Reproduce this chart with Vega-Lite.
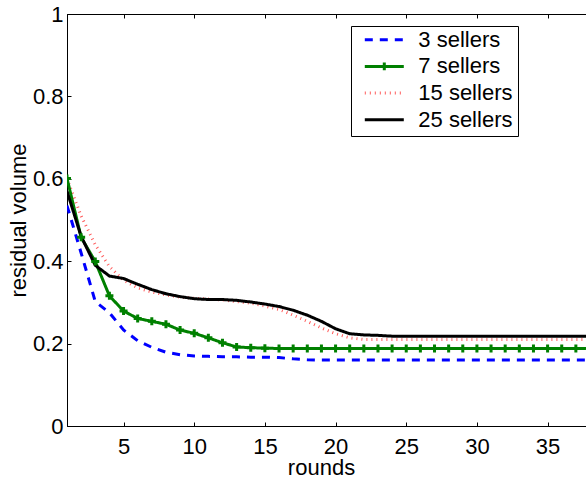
{
  "$schema": "https://vega.github.io/schema/vega-lite/v6.json",
  "width": 523,
  "height": 412,
  "autosize": "none",
  "padding": {"left": 67, "top": 14, "right": 0, "bottom": 52},
  "background": "white",
  "config": {
    "font": "Liberation Sans",
    "view": {"stroke": "black", "strokeWidth": 1},
    "axis": {
      "grid": false,
      "domainColor": "black",
      "domainWidth": 1,
      "tickColor": "black",
      "tickWidth": 1,
      "tickSize": -4,
      "labelFont": "Liberation Sans",
      "labelFontSize": 22,
      "labelColor": "black",
      "titleFont": "Liberation Sans",
      "titleFontSize": 22,
      "titleFontWeight": "normal",
      "titleColor": "black"
    }
  },
  "datasets": {
    "main": [
      {"round": 1, "series": "3 sellers", "v": 0.535}, {"round": 2, "series": "3 sellers", "v": 0.42}, {"round": 3, "series": "3 sellers", "v": 0.302}, {"round": 4, "series": "3 sellers", "v": 0.275}, {"round": 5, "series": "3 sellers", "v": 0.233}, {"round": 6, "series": "3 sellers", "v": 0.207}, {"round": 7, "series": "3 sellers", "v": 0.191}, {"round": 8, "series": "3 sellers", "v": 0.179}, {"round": 9, "series": "3 sellers", "v": 0.173}, {"round": 10, "series": "3 sellers", "v": 0.17}, {"round": 11, "series": "3 sellers", "v": 0.169}, {"round": 12, "series": "3 sellers", "v": 0.168}, {"round": 13, "series": "3 sellers", "v": 0.168}, {"round": 14, "series": "3 sellers", "v": 0.167}, {"round": 15, "series": "3 sellers", "v": 0.167}, {"round": 16, "series": "3 sellers", "v": 0.166}, {"round": 17, "series": "3 sellers", "v": 0.163}, {"round": 18, "series": "3 sellers", "v": 0.161}, {"round": 19, "series": "3 sellers", "v": 0.16}, {"round": 20, "series": "3 sellers", "v": 0.16}, {"round": 21, "series": "3 sellers", "v": 0.16}, {"round": 22, "series": "3 sellers", "v": 0.16}, {"round": 23, "series": "3 sellers", "v": 0.16}, {"round": 24, "series": "3 sellers", "v": 0.16}, {"round": 25, "series": "3 sellers", "v": 0.16}, {"round": 26, "series": "3 sellers", "v": 0.16}, {"round": 27, "series": "3 sellers", "v": 0.16}, {"round": 28, "series": "3 sellers", "v": 0.16}, {"round": 29, "series": "3 sellers", "v": 0.16}, {"round": 30, "series": "3 sellers", "v": 0.16}, {"round": 31, "series": "3 sellers", "v": 0.16}, {"round": 32, "series": "3 sellers", "v": 0.16}, {"round": 33, "series": "3 sellers", "v": 0.16}, {"round": 34, "series": "3 sellers", "v": 0.16}, {"round": 35, "series": "3 sellers", "v": 0.16}, {"round": 36, "series": "3 sellers", "v": 0.16}, {"round": 37, "series": "3 sellers", "v": 0.16}, {"round": 38, "series": "3 sellers", "v": 0.16},
      {"round": 1, "series": "15 sellers", "v": 0.6}, {"round": 2, "series": "15 sellers", "v": 0.51}, {"round": 3, "series": "15 sellers", "v": 0.44}, {"round": 4, "series": "15 sellers", "v": 0.387}, {"round": 5, "series": "15 sellers", "v": 0.354}, {"round": 6, "series": "15 sellers", "v": 0.335}, {"round": 7, "series": "15 sellers", "v": 0.325}, {"round": 8, "series": "15 sellers", "v": 0.318}, {"round": 9, "series": "15 sellers", "v": 0.313}, {"round": 10, "series": "15 sellers", "v": 0.31}, {"round": 11, "series": "15 sellers", "v": 0.308}, {"round": 12, "series": "15 sellers", "v": 0.306}, {"round": 13, "series": "15 sellers", "v": 0.302}, {"round": 14, "series": "15 sellers", "v": 0.298}, {"round": 15, "series": "15 sellers", "v": 0.291}, {"round": 16, "series": "15 sellers", "v": 0.283}, {"round": 17, "series": "15 sellers", "v": 0.269}, {"round": 18, "series": "15 sellers", "v": 0.254}, {"round": 19, "series": "15 sellers", "v": 0.238}, {"round": 20, "series": "15 sellers", "v": 0.224}, {"round": 21, "series": "15 sellers", "v": 0.214}, {"round": 22, "series": "15 sellers", "v": 0.21}, {"round": 23, "series": "15 sellers", "v": 0.21}, {"round": 24, "series": "15 sellers", "v": 0.21}, {"round": 25, "series": "15 sellers", "v": 0.21}, {"round": 26, "series": "15 sellers", "v": 0.21}, {"round": 27, "series": "15 sellers", "v": 0.21}, {"round": 28, "series": "15 sellers", "v": 0.21}, {"round": 29, "series": "15 sellers", "v": 0.21}, {"round": 30, "series": "15 sellers", "v": 0.21}, {"round": 31, "series": "15 sellers", "v": 0.21}, {"round": 32, "series": "15 sellers", "v": 0.21}, {"round": 33, "series": "15 sellers", "v": 0.21}, {"round": 34, "series": "15 sellers", "v": 0.21}, {"round": 35, "series": "15 sellers", "v": 0.21}, {"round": 36, "series": "15 sellers", "v": 0.21}, {"round": 37, "series": "15 sellers", "v": 0.21}, {"round": 38, "series": "15 sellers", "v": 0.21},
      {"round": 1, "series": "7 sellers", "v": 0.601}, {"round": 2, "series": "7 sellers", "v": 0.458}, {"round": 3, "series": "7 sellers", "v": 0.399}, {"round": 4, "series": "7 sellers", "v": 0.316}, {"round": 5, "series": "7 sellers", "v": 0.279}, {"round": 6, "series": "7 sellers", "v": 0.261}, {"round": 7, "series": "7 sellers", "v": 0.254}, {"round": 8, "series": "7 sellers", "v": 0.247}, {"round": 9, "series": "7 sellers", "v": 0.233}, {"round": 10, "series": "7 sellers", "v": 0.225}, {"round": 11, "series": "7 sellers", "v": 0.214}, {"round": 12, "series": "7 sellers", "v": 0.202}, {"round": 13, "series": "7 sellers", "v": 0.192}, {"round": 14, "series": "7 sellers", "v": 0.19}, {"round": 15, "series": "7 sellers", "v": 0.189}, {"round": 16, "series": "7 sellers", "v": 0.188}, {"round": 17, "series": "7 sellers", "v": 0.188}, {"round": 18, "series": "7 sellers", "v": 0.188}, {"round": 19, "series": "7 sellers", "v": 0.188}, {"round": 20, "series": "7 sellers", "v": 0.188}, {"round": 21, "series": "7 sellers", "v": 0.188}, {"round": 22, "series": "7 sellers", "v": 0.188}, {"round": 23, "series": "7 sellers", "v": 0.188}, {"round": 24, "series": "7 sellers", "v": 0.188}, {"round": 25, "series": "7 sellers", "v": 0.188}, {"round": 26, "series": "7 sellers", "v": 0.188}, {"round": 27, "series": "7 sellers", "v": 0.188}, {"round": 28, "series": "7 sellers", "v": 0.188}, {"round": 29, "series": "7 sellers", "v": 0.188}, {"round": 30, "series": "7 sellers", "v": 0.188}, {"round": 31, "series": "7 sellers", "v": 0.188}, {"round": 32, "series": "7 sellers", "v": 0.188}, {"round": 33, "series": "7 sellers", "v": 0.188}, {"round": 34, "series": "7 sellers", "v": 0.188}, {"round": 35, "series": "7 sellers", "v": 0.188}, {"round": 36, "series": "7 sellers", "v": 0.188}, {"round": 37, "series": "7 sellers", "v": 0.188}, {"round": 38, "series": "7 sellers", "v": 0.188},
      {"round": 1, "series": "25 sellers", "v": 0.57}, {"round": 2, "series": "25 sellers", "v": 0.46}, {"round": 3, "series": "25 sellers", "v": 0.39}, {"round": 4, "series": "25 sellers", "v": 0.364}, {"round": 5, "series": "25 sellers", "v": 0.358}, {"round": 6, "series": "25 sellers", "v": 0.344}, {"round": 7, "series": "25 sellers", "v": 0.331}, {"round": 8, "series": "25 sellers", "v": 0.321}, {"round": 9, "series": "25 sellers", "v": 0.314}, {"round": 10, "series": "25 sellers", "v": 0.309}, {"round": 11, "series": "25 sellers", "v": 0.307}, {"round": 12, "series": "25 sellers", "v": 0.307}, {"round": 13, "series": "25 sellers", "v": 0.305}, {"round": 14, "series": "25 sellers", "v": 0.301}, {"round": 15, "series": "25 sellers", "v": 0.296}, {"round": 16, "series": "25 sellers", "v": 0.29}, {"round": 17, "series": "25 sellers", "v": 0.281}, {"round": 18, "series": "25 sellers", "v": 0.269}, {"round": 19, "series": "25 sellers", "v": 0.254}, {"round": 20, "series": "25 sellers", "v": 0.236}, {"round": 21, "series": "25 sellers", "v": 0.224}, {"round": 22, "series": "25 sellers", "v": 0.221}, {"round": 23, "series": "25 sellers", "v": 0.22}, {"round": 24, "series": "25 sellers", "v": 0.218}, {"round": 25, "series": "25 sellers", "v": 0.218}, {"round": 26, "series": "25 sellers", "v": 0.218}, {"round": 27, "series": "25 sellers", "v": 0.218}, {"round": 28, "series": "25 sellers", "v": 0.218}, {"round": 29, "series": "25 sellers", "v": 0.218}, {"round": 30, "series": "25 sellers", "v": 0.218}, {"round": 31, "series": "25 sellers", "v": 0.218}, {"round": 32, "series": "25 sellers", "v": 0.218}, {"round": 33, "series": "25 sellers", "v": 0.218}, {"round": 34, "series": "25 sellers", "v": 0.218}, {"round": 35, "series": "25 sellers", "v": 0.218}, {"round": 36, "series": "25 sellers", "v": 0.218}, {"round": 37, "series": "25 sellers", "v": 0.218}, {"round": 38, "series": "25 sellers", "v": 0.218}
    ]
  },
  "data": {"name": "main"},
  "layer": [
    {
      "mark": {"type": "line", "strokeWidth": 3, "strokeCap": "butt", "clip": true},
      "encoding": {
        "x": {
          "field": "round", "type": "quantitative",
          "scale": {"domain": [1, 38], "nice": false, "zero": false},
          "axis": {"orient": "bottom", "values": [5, 10, 15, 20, 25, 30, 35], "labelPadding": 14, "title": "rounds", "titleX": 254, "titleY": 48, "titleBaseline": "alphabetic", "titleAnchor": null}
        },
        "y": {
          "field": "v", "type": "quantitative",
          "scale": {"domain": [0, 1], "nice": false},
          "axis": {"orient": "left", "values": [0, 0.2, 0.4, 0.6, 0.8, 1], "format": "~g", "labelPadding": 8, "title": "residual volume", "titleX": -42, "titleY": 206, "titleAngle": 270, "titleAlign": "center", "titleBaseline": "alphabetic", "titleAnchor": null}
        },
        "color": {
          "field": "series", "type": "nominal",
          "scale": {"domain": ["3 sellers", "7 sellers", "15 sellers", "25 sellers"], "range": ["#0000ff", "#008000", "#ff5a5a", "#000000"]},
          "legend": {
            "title": null,
            "orient": "none",
            "legendX": 284,
            "legendY": 12,
            "direction": "vertical",
            "symbolType": "stroke",
            "symbolSize": 1521,
            "symbolStrokeWidth": 3,
            "symbolFillColor": "transparent",
            "clipHeight": 18,
            "rowPadding": 4.7,
            "padding": 4.7,
            "symbolOffset": 7.6,
            "labelOffset": 13,
            "labelExpr": "datum.label + ' '",
            "labelFont": "Liberation Sans",
            "labelFontSize": 22,
            "labelColor": "black",
            "strokeColor": "black",
            "fillColor": "white",
            "encode": {
              "symbols": {"update": {"shape": {"signal": "datum.value === '7 sellers' ? 'M-1,0H1M0,-0.2V0.2' : 'stroke'"}, "fill": {"value": "transparent"}}}
            }
          }
        },
        "strokeDash": {
          "field": "series", "type": "nominal",
          "scale": {"domain": ["3 sellers", "7 sellers", "15 sellers", "25 sellers"], "range": [[8, 7], [1, 0], [1, 4], [1, 0]]},
          "legend": null
        }
      }
    },
    {
      "transform": [{"filter": "datum.series === '7 sellers'"}],
      "mark": {"type": "point", "shape": "M-1,0H1M0,-1V1", "size": 64, "filled": false, "stroke": "#008000", "strokeWidth": 3, "opacity": 1, "clip": true},
      "encoding": {
        "x": {"field": "round", "type": "quantitative", "axis": {"orient": "top", "labels": false, "title": null, "values": [5, 10, 15, 20, 25, 30, 35]}},
        "y": {"field": "v", "type": "quantitative", "axis": {"orient": "right", "labels": false, "title": null, "values": [0, 0.2, 0.4, 0.6, 0.8, 1]}}
      }
    }
  ],
  "resolve": {"axis": {"x": "independent", "y": "independent"}}
}
